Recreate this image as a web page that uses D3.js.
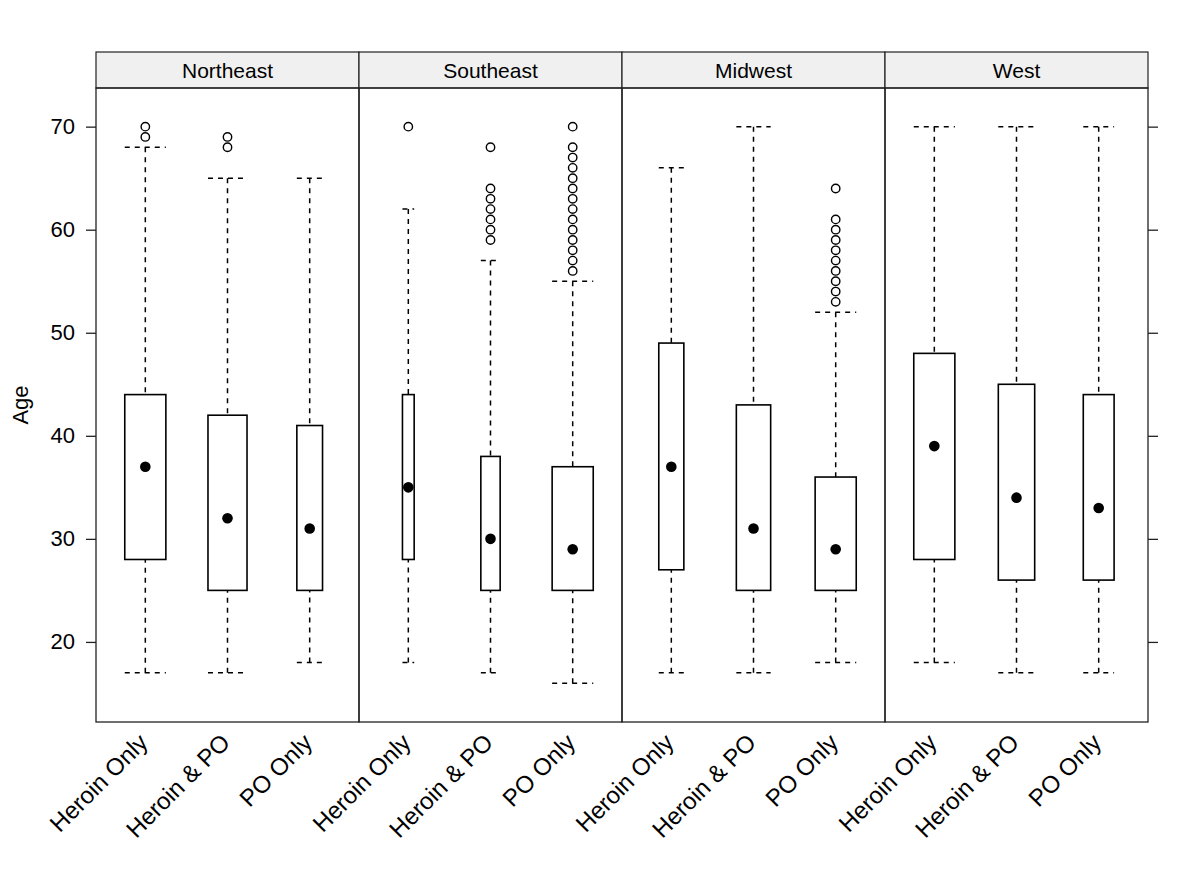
<!DOCTYPE html>
<html>
<head>
<meta charset="utf-8">
<script src="https://cdn.jsdelivr.net/npm/d3@7"></script>
<style>
  html, body { margin: 0; padding: 0; background: #fff; }
  text { font-family: "Liberation Sans", Arial, Helvetica, sans-serif; fill: #000; }
</style>
</head>
<body>
<svg id="chart" width="1200" height="884"></svg>
<script>
// ---- Data ----
const regions = ["Northeast", "Southeast", "Midwest", "West"];
const groups = ["Heroin Only", "Heroin & PO", "PO Only"];
const yTicks = [20, 30, 40, 50, 60, 70];

// per region, per group
const lowerWhisker = [[17, 17, 18], [18, 17, 16], [17, 17, 18], [18, 17, 17]];
const q1 =           [[28, 25, 25], [28, 25, 25], [27, 25, 25], [28, 26, 26]];
const median =       [[37, 32, 31], [35, 30, 29], [37, 31, 29], [39, 34, 33]];
const q3 =           [[44, 42, 41], [44, 38, 37], [49, 43, 36], [48, 45, 44]];
const upperWhisker = [[68, 65, 65], [62, 57, 55], [66, 70, 52], [70, 70, 70]];
// relative box width (sqrt of group size relative to the largest group)
const widthRatio =   [[1.0, 0.95, 0.625], [0.285, 0.47, 1.0], [0.61, 0.835, 1.0], [1.0, 0.885, 0.75]];
const outliers = [
  [[69, 70], [68, 69], []],
  [[70], [59, 60, 61, 62, 63, 64, 68], [56, 57, 58, 59, 60, 61, 62, 63, 64, 65, 66, 67, 68, 70]],
  [[], [], [53, 54, 55, 56, 57, 58, 59, 60, 61, 64]],
  [[], [], []]
];

// ---- Layout ----
(function () {
const svg = d3.select("#chart");
const mLeft = 96, mRight = 1148, mTop = 52, stripH = 36, mBottom = 722;
const panelTop = mTop + stripH;
const panelW = (mRight - mLeft) / regions.length;

const y = d3.scaleLinear().domain([12.23, 73.75]).range([mBottom, panelTop]);
const x = d3.scaleLinear().domain([0.4, groups.length + 0.6]).range([0, panelW]);
const halfBoxUnits = 0.25; // box.ratio = 1 -> width 0.5 data units

const ink = "#000";

regions.forEach((reg, ri) => {
  const px = mLeft + ri * panelW;
  const g = svg.append("g").attr("transform", `translate(${px},0)`);

  // strip
  g.append("rect").attr("x", 0).attr("y", mTop).attr("width", panelW).attr("height", stripH)
    .attr("fill", "#f0f0f0").attr("stroke", "#222").attr("stroke-width", 1.2);
  g.append("text").attr("x", panelW / 2).attr("y", mTop + stripH / 2)
    .attr("text-anchor", "middle").attr("dominant-baseline", "central")
    .attr("font-size", 21).text(reg);

  groups.forEach((grp, gi) => {
    const cx = x(gi + 1);
    const hw = x(gi + 1 + halfBoxUnits * widthRatio[ri][gi]) - cx;

    const dash = "5,5";
    g.append("line").attr("x1", cx).attr("x2", cx)
      .attr("y1", y(upperWhisker[ri][gi])).attr("y2", y(q3[ri][gi]))
      .attr("stroke", ink).attr("stroke-width", 1.5).attr("stroke-dasharray", dash);
    g.append("line").attr("x1", cx).attr("x2", cx)
      .attr("y1", y(lowerWhisker[ri][gi])).attr("y2", y(q1[ri][gi]))
      .attr("stroke", ink).attr("stroke-width", 1.5).attr("stroke-dasharray", dash);
    [upperWhisker[ri][gi], lowerWhisker[ri][gi]].forEach(v => {
      g.append("line").attr("x1", cx - hw).attr("x2", cx + hw)
        .attr("y1", y(v)).attr("y2", y(v))
        .attr("stroke", ink).attr("stroke-width", 1.5).attr("stroke-dasharray", dash);
    });

    g.append("rect").attr("x", cx - hw).attr("width", 2 * hw)
      .attr("y", y(q3[ri][gi])).attr("height", y(q1[ri][gi]) - y(q3[ri][gi]))
      .attr("fill", "none").attr("stroke", ink).attr("stroke-width", 1.6);

    g.append("circle").attr("cx", cx).attr("cy", y(median[ri][gi])).attr("r", 5.3)
      .attr("fill", ink);

    g.selectAll(null).data(outliers[ri][gi]).enter().append("circle")
      .attr("cx", cx).attr("cy", d => y(d)).attr("r", 4.2)
      .attr("fill", "none").attr("stroke", ink).attr("stroke-width", 1.4);

    g.append("text")
      .attr("transform", `translate(${cx - 2},${mBottom + 16}) rotate(-45)`)
      .attr("text-anchor", "end").attr("dominant-baseline", "central")
      .attr("font-size", 24).text(grp);
  });

  g.append("rect").attr("x", 0).attr("y", panelTop).attr("width", panelW).attr("height", mBottom - panelTop)
    .attr("fill", "none").attr("stroke", "#222").attr("stroke-width", 1.3);
});

const yAxisL = d3.axisLeft(y).tickValues(yTicks).tickSize(10).tickPadding(11);
const gl = svg.append("g").attr("transform", `translate(${mLeft},0)`).call(yAxisL);
gl.select(".domain").remove();
gl.selectAll(".tick line").attr("stroke", "#222").attr("stroke-width", 1.3);
gl.selectAll(".tick text").attr("font-size", 22).attr("font-family", "Liberation Sans, Arial, sans-serif").attr("fill", "#000");

const yAxisR = d3.axisRight(y).tickValues(yTicks).tickSize(10).tickFormat("");
const gr = svg.append("g").attr("transform", `translate(${mRight},0)`).call(yAxisR);
gr.select(".domain").remove();
gr.selectAll(".tick line").attr("stroke", "#222").attr("stroke-width", 1.3);

svg.append("text").attr("transform", `translate(20,${(panelTop + mBottom) / 2}) rotate(-90)`)
  .attr("text-anchor", "middle").attr("dominant-baseline", "central")
  .attr("font-size", 22).text("Age");
})();
</script>
</body>
</html>
